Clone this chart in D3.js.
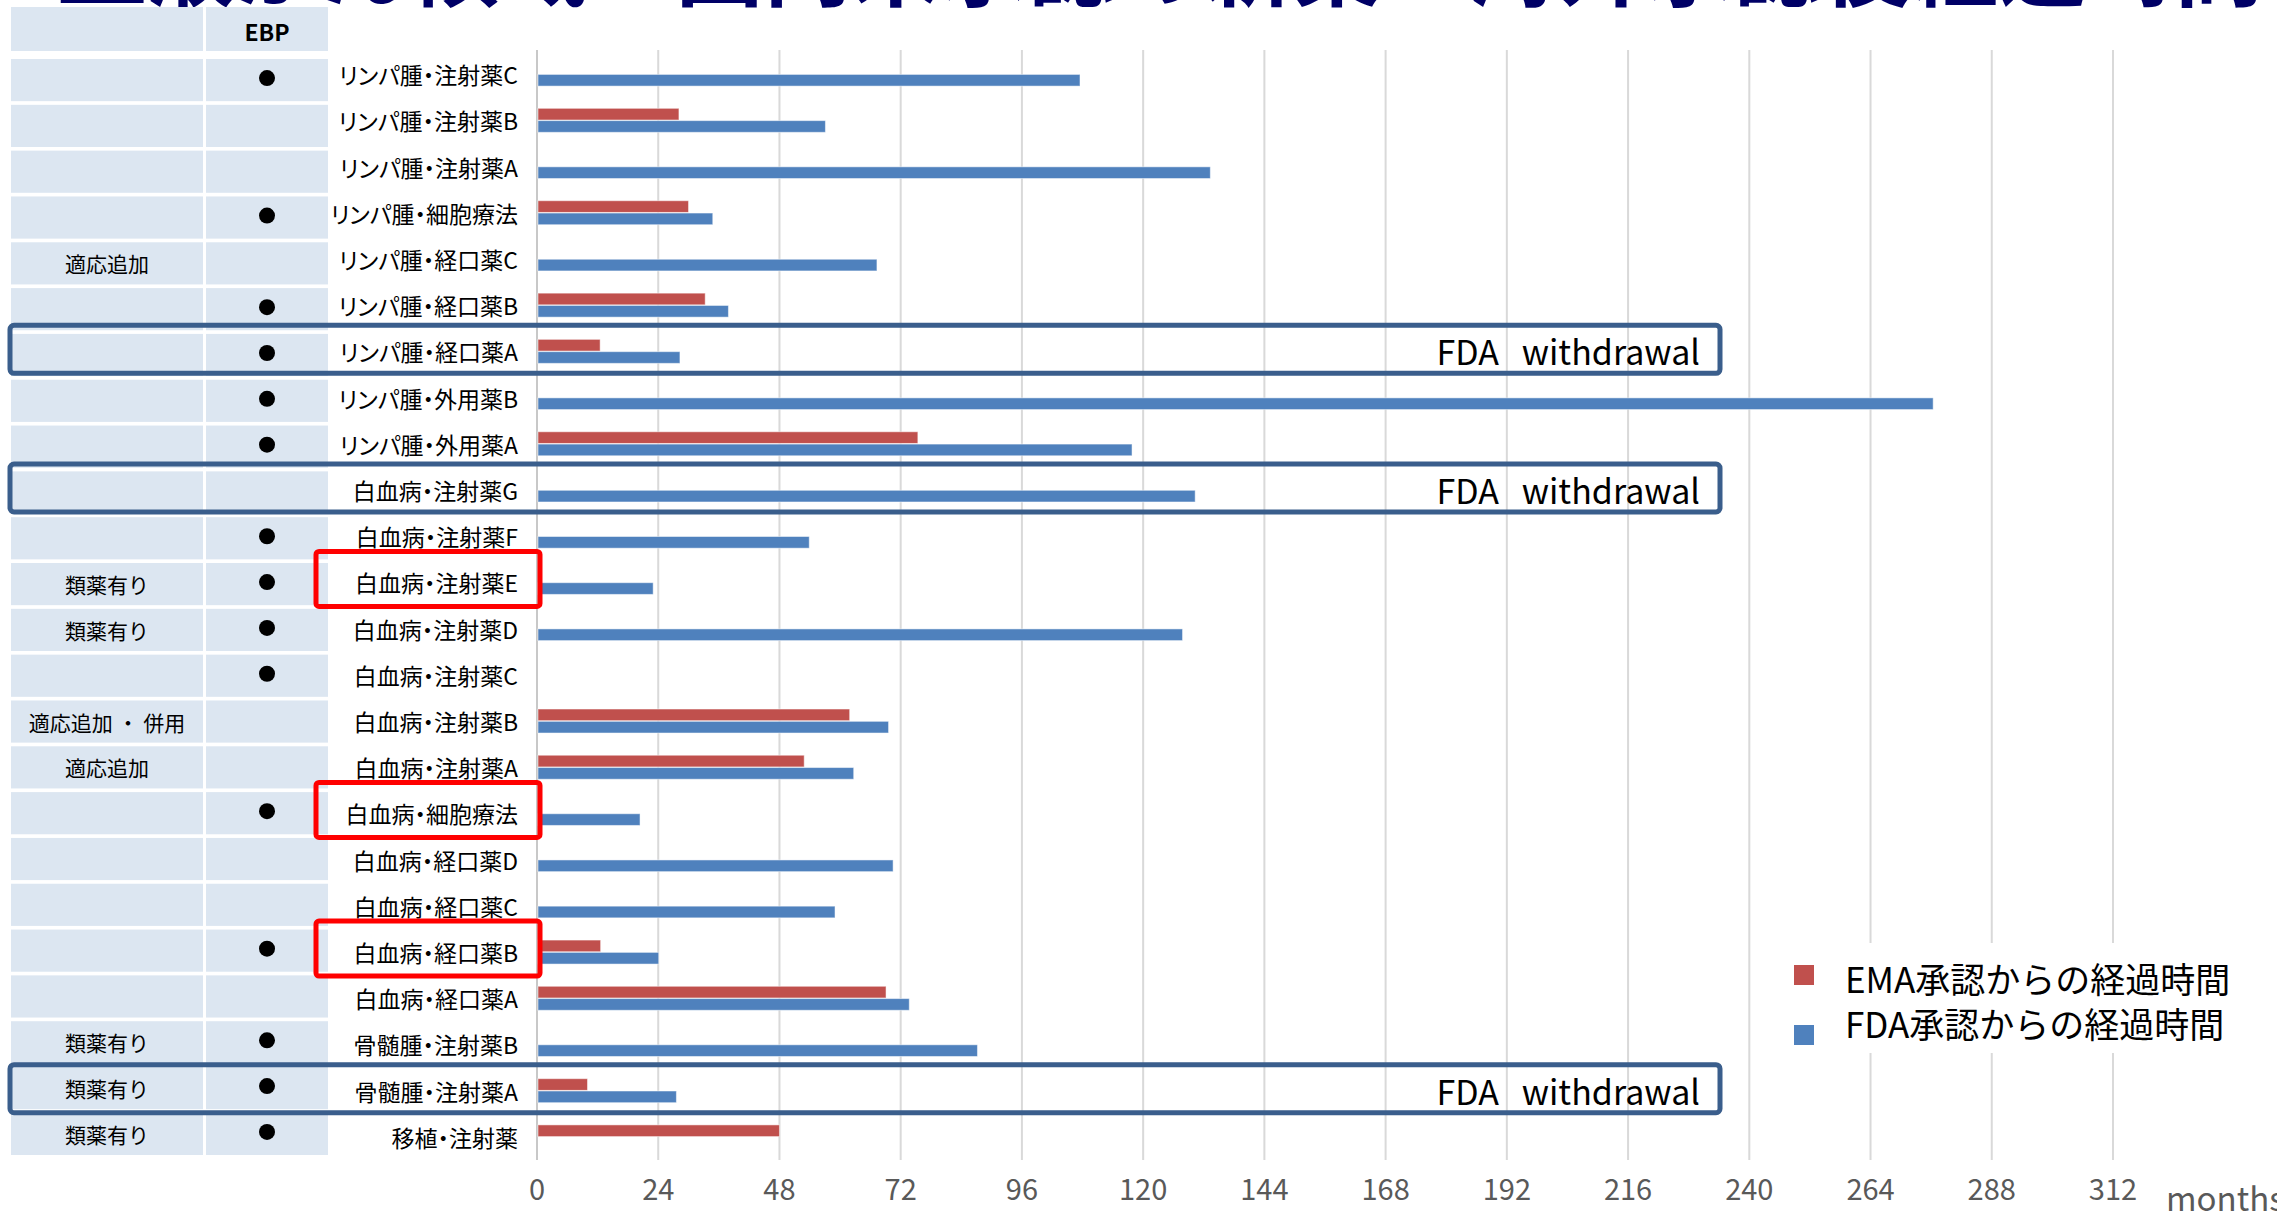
<!DOCTYPE html>
<html>
<head>
<meta charset="utf-8">
<script src="https://cdn.jsdelivr.net/npm/d3@7"></script>
<style>
  body { margin: 0; background: #fff; }
  svg text { font-family: "Noto Sans CJK JP", "Noto Sans", sans-serif; }
</style>
</head>
<body>
<div id="chart"></div>
<script>
// drugs, top to bottom
const drugs = [
    "リンパ腫・注射薬C", "リンパ腫・注射薬B", "リンパ腫・注射薬A", "リンパ腫・細胞療法",
    "リンパ腫・経口薬C", "リンパ腫・経口薬B", "リンパ腫・経口薬A", "リンパ腫・外用薬B",
    "リンパ腫・外用薬A", "白血病・注射薬G", "白血病・注射薬F", "白血病・注射薬E",
    "白血病・注射薬D", "白血病・注射薬C", "白血病・注射薬B", "白血病・注射薬A",
    "白血病・細胞療法", "白血病・経口薬D", "白血病・経口薬C", "白血病・経口薬B",
    "白血病・経口薬A", "骨髄腫・注射薬B", "骨髄腫・注射薬A", "移植・注射薬"
];
// months since EMA / FDA approval (null = not approved)
const emaMonths = [
    null, 27.9, null, 29.8, null, 33.1, 12.3, null,
    75.2, null, null, null, null, null, 61.7, 52.7,
    null, null, null, 12.4, 68.9, null, 9.8, 47.8
];
const fdaMonths = [
    107.3, 56.9, 133.1, 34.6, 67.1, 37.7, 28.1, 276.2,
    117.6, 130.1, 53.7, 22.8, 127.6, null, 69.4, 62.5,
    20.2, 70.3, 58.8, 23.9, 73.5, 87.0, 27.4, null
];
const notes = [
    "", "", "", "", "適応追加", "", "", "",
    "", "", "", "類薬有り", "類薬有り", "", "適応追加 ・ 併用", "適応追加",
    "", "", "", "", "", "類薬有り", "類薬有り", "類薬有り"
];
const ebp = [
    true, false, false, true, false, true, true, true,
    true, false, true, true, true, true, false, false,
    true, false, false, true, false, true, true, true
];
const withdrawn = ["リンパ腫・経口薬A", "白血病・注射薬G", "骨髄腫・注射薬A"];
const flagged = ["白血病・注射薬E", "白血病・細胞療法", "白血病・経口薬B"];
const seriesNames = ["EMA承認からの経過時間", "FDA承認からの経過時間"];
const seriesColors = ["#c0504d", "#4f81bd"];
const xTicks = d3.range(0, 313, 24);
const titleText = "血液がん領域：国内未承認の新薬・海外承認後経過時間";

const width = 2277, height = 1213;

const svg = d3.select("#chart").append("svg")
    .attr("width", width)
    .attr("height", height);

// scales
let x = d3.scaleLinear().domain([0, 312]).range([537, 2113]);
let y = d3.scaleBand().domain(drugs).range([51, 1160]);
let ySub = d3.scaleBand().domain(["ema", "fda"]).range([-12, 12]).paddingInner(0.05);
let rowY = d3.scaleBand().domain(drugs).range([59, 1155]).paddingInner(0.08);

// title (cut off at the top of the slide)
svg.append("text")
    .attr("x", 58).attr("y", -1)
    .attr("textLength", 2205)
    .attr("lengthAdjust", "spacingAndGlyphs")
    .attr("font-size", 92)
    .attr("font-weight", "bold")
    .attr("fill", "#000066")
    .text(titleText);

// table on the left
const cols = [{x: 11, w: 192}, {x: 206, w: 122}];
let table = svg.append("g");

cols.forEach(function (c) {
    table.append("rect")
        .attr("x", c.x).attr("y", 7)
        .attr("width", c.w).attr("height", 44)
        .attr("fill", "#dce6f1");
    table.selectAll(null).data(drugs).enter().append("rect")
        .attr("x", c.x)
        .attr("y", d => rowY(d))
        .attr("width", c.w)
        .attr("height", rowY.bandwidth())
        .attr("fill", "#dce6f1");
});

table.append("text")
    .attr("x", 267).attr("y", 31)
    .attr("text-anchor", "middle")
    .attr("dominant-baseline", "central")
    .attr("font-family", "Liberation Sans, Arial, sans-serif")
    .attr("font-weight", "bold")
    .attr("font-size", 23)
    .text("EBP");

table.selectAll(".note").data(drugs).enter().append("text")
    .attr("x", 107)
    .attr("y", d => rowY(d) + rowY.bandwidth() / 2)
    .attr("text-anchor", "middle")
    .attr("dominant-baseline", "central")
    .attr("font-size", 21)
    .style("white-space", "pre")
    .text((d, i) => notes[i]);

table.selectAll(".dot").data(drugs.filter((d, i) => ebp[i])).enter().append("circle")
    .attr("cx", 267)
    .attr("cy", d => rowY(d) + rowY.bandwidth() / 2 - 2)
    .attr("r", 8)
    .attr("fill", "#000");

// gridlines
svg.append("g").selectAll("line").data(xTicks).enter().append("line")
    .attr("x1", d => x(d)).attr("x2", d => x(d))
    .attr("y1", 50).attr("y2", 1160)
    .attr("stroke", d => d === 0 ? "#c8c8c8" : "#d9d9d9")
    .attr("stroke-width", 2);

// bars
let bars = svg.append("g");
[emaMonths, fdaMonths].forEach(function (vals, s) {
    let key = s === 0 ? "ema" : "fda";
    bars.selectAll(".b" + key)
        .data(drugs.map((d, i) => ({drug: d, v: vals[i]})).filter(d => d.v !== null))
        .enter().append("rect")
        .attr("x", x(0) + 1)
        .attr("y", d => y(d.drug) + y.bandwidth() / 2 + ySub(key))
        .attr("width", d => x(d.v) - x(0))
        .attr("height", ySub.bandwidth())
        .attr("fill", seriesColors[s])
        .attr("stroke", "rgba(255,255,255,0.5)")
        .attr("stroke-width", 1);
});

// category labels
svg.append("g").selectAll("text").data(drugs).enter().append("text")
    .attr("x", 518)
    .attr("y", d => y(d) + y.bandwidth() / 2)
    .attr("text-anchor", "end")
    .attr("dominant-baseline", "central")
    .attr("font-size", 23)
    .style("font-feature-settings", "'palt'")
    .text(d => d);

// FDA withdrawal boxes
let wd = svg.append("g");
wd.selectAll("rect").data(withdrawn).enter().append("rect")
    .attr("x", 10)
    .attr("y", d => y(d) + y.bandwidth() / 2 - 26)
    .attr("width", 1710)
    .attr("height", 48)
    .attr("rx", 4)
    .attr("fill", "none")
    .attr("stroke", "#3a5e8c")
    .attr("stroke-width", 5);
wd.selectAll("text").data(withdrawn).enter().append("text")
    .attr("x", 1700)
    .attr("y", d => y(d) + y.bandwidth() / 2 + 14)
    .attr("text-anchor", "end")
    .attr("font-family", "Liberation Sans, Arial, sans-serif")
    .attr("font-size", 34)
    .style("white-space", "pre")
    .text("FDA   withdrawal");

// red highlight boxes around labels
svg.append("g").selectAll("rect").data(flagged).enter().append("rect")
    .attr("x", 316)
    .attr("y", d => y(d) + y.bandwidth() / 2 - 31)
    .attr("width", 224)
    .attr("height", 55)
    .attr("rx", 3)
    .attr("fill", "none")
    .attr("stroke", "#ff0000")
    .attr("stroke-width", 5);

// x axis tick labels
svg.append("g").selectAll("text").data(xTicks).enter().append("text")
    .attr("x", d => x(d))
    .attr("y", 1187)
    .attr("text-anchor", "middle")
    .attr("dominant-baseline", "central")
    .attr("font-family", "Liberation Sans Narrow, Liberation Sans, Arial, sans-serif")
    .attr("font-size", 29)
    .attr("fill", "#595959")
    .text(d => d);

svg.append("text")
    .attr("x", 2166).attr("y", 1211)
    .attr("font-family", "Liberation Sans Narrow, Liberation Sans, Arial, sans-serif")
    .attr("font-size", 33)
    .attr("fill", "#595959")
    .text("months");

// legend
let legend = svg.append("g");
legend.append("rect")
    .attr("x", 1762).attr("y", 943)
    .attr("width", 515).attr("height", 110)
    .attr("fill", "#fff");
seriesNames.forEach(function (name, i) {
    legend.append("rect")
        .attr("x", 1794).attr("y", 965 + i * 60)
        .attr("width", 20).attr("height", 20)
        .attr("fill", seriesColors[i]);
    legend.append("text")
        .attr("x", 1845).attr("y", 977 + i * 45)
        .attr("dominant-baseline", "central")
        .attr("font-size", 35)
        .text(name);
});
</script>
</body>
</html>
